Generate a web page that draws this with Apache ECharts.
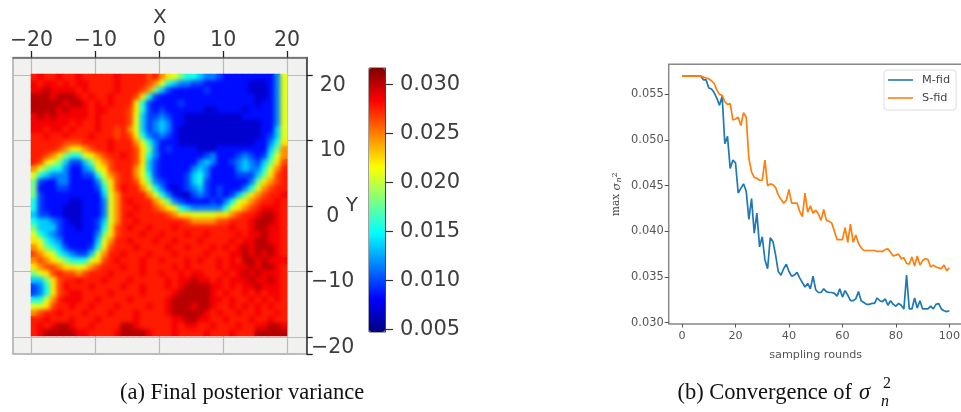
<!DOCTYPE html>
<html><head><meta charset="utf-8">
<style>html,body{margin:0;padding:0;background:#fff}#c{width:961px;height:412px;position:relative}
#soft{position:absolute;left:31px;top:74px;width:256px;height:262px;overflow:hidden}
#softInner{width:256px;height:262px;filter:blur(2px)}</style>
<script src="https://cdn.jsdelivr.net/npm/echarts@6/dist/echarts.min.js"></script>
</head><body><div id="c"></div><div id="soft"><div id="softInner"></div></div>
<script>
// variance: one character per cell, looked up in levelValues
const levelKeys = '0123456789abcd';
const levelValues = [.0068,.0084,.0098,.0115,.0135,.0155,.0180,.0208,.0222,.0245,.0265,.0276,.0286,.0302];
const varianceRows = [
'bcbbcbbcbbbbbcbbbbab987655433211111111' + '37',
'cbccbcbccbbbbcbbbba9754332211111110001' + '37',
'ccdccccbcbbbbcbbba96421111121111110001' + '37',
'dddcdddcbcbbcbbba8521111111111' + '11111001' + '37',
'dddddcddcbcbcbbb85211112111111' + '11111011' + '37',
'ddddcdcccbccbbba85212111111001' + '11101111' + '37',
'cdcdcccccbcbbbba74223211000000' + '00011111' + '37',
'ccccccbcbbcbbbba74234311000000' + '00000011' + '37',
'ccbccbcbbbcbbab974234310000000' + '00000011' + '47',
'bbcbbcbbbcbbbaba85323210000000' + '00000012' + '47',
'bbbbbaaabbbbcbbb97531110000000' + '00000113' + '58',
'bbbba9889abbcbbba8631211110001' + '11111114' + '69',
'bba98655789abbcba8531111111231' + '11232125' + '79',
'ba8764224689abbba8421111113431' + '12343246' + '8a',
'976553113478abbb97421111134311' + '11343357' + '9b',
'7543331122579abb97521111245311' + '11222468' + 'ab',
'6211331111368abba8632111245211' + '11113689' + 'ab',
'6111221111258acbb9753101234212' + '1113579a' + 'bb',
'62111111111479bbbb975310023212' + '124689ab' + 'bc',
'52111100111379bcbbb98632111121' + '35789abb' + 'cb',
'52111000111379bbcbba9875433333' + '5789abcc' + 'cb',
'42211000111379bcbbbbba98877778' + '89abbcdd' + 'cb',
'54432100112479bbcbbbbbbba9999a' + 'abbbcddd' + 'cb',
'6444211011258abcbbcbbbcbbbbbbb' + 'bcbbcddc' + 'cb',
'7543211111368abbbcbbcbbbcbbcbb' + 'bbcbccdc' + 'cb',
'8754311111479bbcbbbcbbcbbbcbbb' + 'bcbccddc' + 'cb',
'986542111258abbbcbbbbcbbcbbbcb' + 'cbcdcddd' + 'cb',
'a98754322479bbcbbbcbbbcbbbbcbb' + 'bccdcdcd' + 'cb',
'9a987655578abcbbbcbbcbbbcbcbbc' + 'bcbddcdc' + 'cc',
'89aa988789abbbcbbcbbbbcbcbbbbc' + 'bcccdcdd' + 'cb',
'678abaa9abbbcbbbbcbbcbbcbccbbb' + 'cbcdcdcc' + 'cb',
'4468abbcbbbcbbbcbbbbbcbccdccbc' + 'bcccdccd' + 'cb',
'2358acbbbcbbbbcbbcbbbcbcddddcc' + 'bcbccdcc' + 'cb',
'2358abccbbbbcbbbbcbbbbcdddddcb' + 'cbbcbcbc' + 'cb',
'5579bcccbbcbbbbcbbbbbcddddddcc' + 'bcbbcbcb' + 'cb',
'778abbcbbcbbbcbbbbcbbcdddcddcb' + 'bcbcbcbc' + 'bb',
'9abbcbbbcbbbcbbbcbbbbcdddddcbc' + 'bbcbbcbb' + 'cb',
'bbcbbbcbbbcbbbbbcbbbbbccddccbb' + 'cbbbcbbc' + 'bb',
'bcbcddcbbcbbbbddcbbbbbcbccbbcb' + 'bbcbbccd' + 'dc',
'bcdddddccbbbbcddddcbbbcbbbbcbb' + 'bcbbbddd' + 'dd'
];
const mapXTicks = [-20,-10,0,10,20];
const mapYTicks = [20,10,0,-10,-20];
const mapYEndTick = -22.6;
const jetColors = ['#00007f','#0000ff','#007fff','#00ffff','#7fff7f','#ffff00','#ff7f00','#ff0000','#7f0000'];
const barTicks = [.005,.01,.015,.02,.025,.03];
const rounds = [0,20,40,60,80,100];
const sigmaTicks = [.03,.035,.04,.045,.05,.055];
const mFid = [.0570,.0570,.0570,.0570,.0570,.0570,.0570,.0570,.0566,.0566,.0557,.0556,.0552,.0546,.0538,.0548,.0496,.0504,.0469,.0478,
.0475,.0442,.0447,.0452,.0444,.0413,.0436,.0398,.0420,.0383,.0394,.0369,.0359,.0393,.0389,.0374,.0356,.0352,.0359,.0364,
.0356,.0351,.0352,.0355,.0349,.0344,.0339,.0343,.0337,.0351,.0336,.0333,.0333,.0337,.0334,.0333,.0333,.0332,.0329,.0337,
.0328,.0335,.0330,.0324,.0324,.0326,.0334,.0324,.0322,.0320,.0320,.0321,.0321,.0327,.0324,.0323,.0326,.0319,.0324,.0320,
.0318,.0321,.0319,.0315,.0352,.0315,.0315,.0327,.0316,.0324,.0315,.0315,.0315,.0318,.0315,.0320,.0321,.0315,.0313,.0312,.0313];
const sFid = [.0570,.0570,.0570,.0570,.0570,.0570,.0570,.0570,.0569,.0568,.0567,.0565,.0562,.0555,.0550,.0549,.0542,.0539,.0540,.0522,
.0523,.0525,.0516,.0530,.0525,.0480,.0465,.0459,.0458,.0456,.0456,.0478,.0450,.0452,.0451,.0448,.0440,.0435,.0431,.0434,
.0446,.0431,.0431,.0431,.0422,.0416,.0442,.0421,.0428,.0420,.0423,.0419,.0412,.0424,.0412,.0411,.0409,.0400,.0391,.0391,
.0391,.0404,.0388,.0408,.0388,.0396,.0387,.0382,.0379,.0379,.0379,.0379,.0379,.0378,.0378,.0378,.0380,.0381,.0377,.0373,
.0374,.0375,.0370,.0371,.0365,.0364,.0372,.0362,.0373,.0363,.0368,.0370,.0369,.0361,.0363,.0361,.0360,.0359,.0363,.0357,.0360];

const heatData = [];
varianceRows.forEach((row, r) => {
  for (let j = 0; j < 40; j++) {
    heatData.push([j, r, levelValues[levelKeys.indexOf(row[j] || 'b')]]);
  }
});
const cats = Array.from({length: 40}, (_, i) => i);
const ink = '#3d3d3d', ink2 = '#555';
const F = 'DejaVu Sans';
const chart = echarts.init(document.getElementById('c'), null, {renderer: 'canvas'});
const pairs = a => a.map((v, i) => [i, v]);
const minus = v => String(v).replace('-', '\u2212');
chart.setOption({
  animation: false,
  backgroundColor: '#fff',
  textStyle: {fontFamily: F},
  grid: [
    {left: 13, top: 57.5, width: 293.7, height: 296.5, show: true, backgroundColor: '#f1f1f0', borderColor: '#aaa', borderWidth: 1.5, outerBoundsMode: 'none'},
    {left: 31, top: 74, width: 256, height: 262, show: false, outerBoundsMode: 'none'},
    {left: 369, top: 68, width: 16, height: 264, show: true, backgroundColor: 'transparent', borderColor: '#444', borderWidth: 1, outerBoundsMode: 'none'},
    {left: 668.7, top: 64.3, width: 294, height: 259.7, show: true, backgroundColor: '#fff', borderColor: '#888', borderWidth: 1.5, outerBoundsMode: 'none'}
  ],
  xAxis: [
    {gridIndex: 0, type: 'value', position: 'top', min: -22.9, max: 23.08, name: 'X', nameLocation: 'middle', nameGap: 30, nameMoveOverlap: false,
     nameTextStyle: {fontSize: 20, color: ink, fontFamily: F},
     axisLine: {onZero: false, lineStyle: {color: '#666', width: 1.5}},
     axisTick: {length: 6.5, lineStyle: {color: '#222', width: 1.3}, customValues: mapXTicks},
     axisLabel: {fontSize: 20.5, color: ink, margin: 6, customValues: mapXTicks, formatter: minus},
     splitLine: {show: true, lineStyle: {color: '#bbb', width: 1.2}}},
    {gridIndex: 1, type: 'category', data: cats, show: false},
    {gridIndex: 2, type: 'value', min: 0, max: 1, show: false},
    {gridIndex: 3, type: 'value', min: -5, max: 105, name: 'sampling rounds', nameLocation: 'middle', nameGap: 26, nameMoveOverlap: false,
     nameTextStyle: {fontSize: 11.2, color: ink2, fontFamily: F},
     axisLine: {show: false, onZero: false},
     axisTick: {length: 3.5, lineStyle: {color: '#555'}, customValues: rounds},
     axisLabel: {fontSize: 11.2, color: ink2, margin: 6.5, customValues: rounds},
     splitLine: {show: false}}
  ],
  yAxis: [
    {gridIndex: 0, type: 'value', position: 'right', min: -22.6, max: 22.67, name: 'Y', nameLocation: 'middle', nameGap: 39, nameRotate: 0, nameMoveOverlap: false,
     nameTextStyle: {fontSize: 20, color: ink, fontFamily: F},
     axisLine: {onZero: false, lineStyle: {color: '#333', width: 1.5}},
     axisTick: {length: 6, lineStyle: {color: '#222', width: 1.3}, customValues: mapYTicks.concat([mapYEndTick])},
     axisLabel: {fontSize: 20.5, color: ink, margin: 26, align: 'center', verticalAlign: 'top', customValues: mapYTicks, formatter: minus},
     splitLine: {show: true, lineStyle: {color: '#bbb', width: 1.2}}},
    {gridIndex: 1, type: 'category', data: cats, inverse: true, show: false},
    {gridIndex: 2, type: 'value', position: 'right', min: .0047, max: .0317,
     axisLine: {onZero: false, lineStyle: {color: '#444'}},
     axisTick: {length: 8, lineStyle: {color: '#333', width: 1.2}, customValues: barTicks},
     axisLabel: {fontSize: 21, color: ink, margin: 15, customValues: barTicks, formatter: v => v.toFixed(3)},
     splitLine: {show: false}},
    {gridIndex: 3, type: 'value', min: .02985, max: .0583,
     name: '{t|max }{g|\u03c3}{s|n}{p|2}', nameLocation: 'middle', nameGap: 46, nameMoveOverlap: false,
     nameTextStyle: {color: '#444', rich: {
       t: {fontFamily: 'DejaVu Serif', fontSize: 10.5, color: '#444'},
       g: {fontFamily: 'DejaVu Serif', fontStyle: 'italic', fontSize: 11.5, color: '#444'},
       s: {fontFamily: 'DejaVu Serif', fontStyle: 'italic', fontSize: 8, color: '#444', verticalAlign: 'bottom'},
       p: {fontFamily: 'DejaVu Serif', fontSize: 8, color: '#444', verticalAlign: 'top'}
     }},
     axisLine: {show: false, onZero: false},
     axisTick: {length: 4, lineStyle: {color: '#555'}, customValues: sigmaTicks},
     axisLabel: {fontSize: 11.4, color: ink2, margin: 5, customValues: sigmaTicks, formatter: v => v.toFixed(3)},
     splitLine: {show: false}}
  ],
  visualMap: {
    type: 'continuous', seriesIndex: 0, min: .0047, max: .0317, left: 369, top: 68, itemWidth: 16, itemHeight: 264,
    inRange: {color: jetColors}, text: null, calculable: false, realtime: false, padding: 0, hoverLink: false, textStyle: {color: 'transparent', fontSize: 1}
  },
  legend: {
    left: 884, top: 70, orient: 'vertical', padding: [3, 6, 5, 4], itemGap: 4, itemWidth: 25, itemHeight: 1.6, icon: 'rect',
    borderColor: '#ddd', borderWidth: 1, borderRadius: 3, backgroundColor: '#fff',
    textStyle: {fontSize: 11.3, color: '#444', padding: [0, 0, 0, 4], lineHeight: 14},
    data: ['M-fid', 'S-fid']
  },
  graphic: [
    {type: 'text', left: 120, top: 382, style: {text: '(a) Final posterior variance', font: '22.5px "Liberation Serif"', fill: '#111'}},
    {type: 'text', left: 677.5, top: 382, style: {text: '(b) Convergence of ', font: '22.5px "Liberation Serif"', fill: '#111'}},
    {type: 'text', left: 859, top: 382, style: {text: '\u03c3', font: 'italic 22.5px "Liberation Serif"', fill: '#111'}},
    {type: 'text', left: 883, top: 376, style: {text: '2', font: '16px "Liberation Serif"', fill: '#111'}},
    {type: 'text', left: 881, top: 394, style: {text: 'n', font: 'italic 16px "Liberation Serif"', fill: '#111'}}
  ],
  series: [
    {type: 'heatmap', xAxisIndex: 1, yAxisIndex: 1, data: heatData, progressive: 0, silent: true},
    {name: 'M-fid', type: 'line', xAxisIndex: 3, yAxisIndex: 3, data: pairs(mFid), symbol: 'none', lineStyle: {color: '#1f77b4', width: 1.7}, itemStyle: {color: '#1f77b4'}},
    {name: 'S-fid', type: 'line', xAxisIndex: 3, yAxisIndex: 3, data: pairs(sFid), symbol: 'none', lineStyle: {color: '#ff7f0e', width: 1.7}, itemStyle: {color: '#ff7f0e'}}
  ]
});
// the same heatmap again, softened, laid over the plot area as the reference image is soft
const soft = echarts.init(document.getElementById('softInner'), null, {renderer: 'canvas'});
soft.setOption({
  animation: false,
  grid: {left: 0, top: 0, right: 0, bottom: 0, outerBoundsMode: 'none'},
  xAxis: {type: 'category', data: cats, show: false},
  yAxis: {type: 'category', data: cats, inverse: true, show: false},
  visualMap: {show: false, type: 'continuous', min: .0047, max: .0317, inRange: {color: jetColors}},
  series: [{type: 'heatmap', data: heatData, progressive: 0, silent: true}]
});
</script></body></html>
